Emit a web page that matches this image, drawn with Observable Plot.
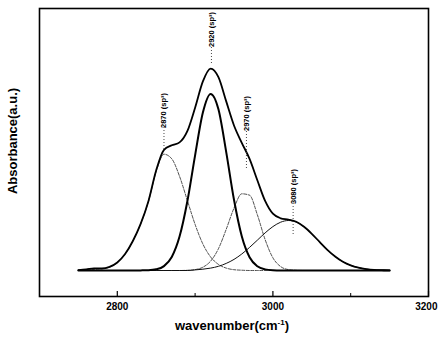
<!DOCTYPE html>
<html>
<head>
<meta charset="utf-8">
<script src="https://cdn.jsdelivr.net/npm/d3@7"></script>
<script src="https://cdn.jsdelivr.net/npm/@observablehq/plot@0.6"></script>
<style>
  html, body { margin: 0; padding: 0; background: #fff; }
  #chart { width: 438px; height: 345px; }
  svg { font-family: "Liberation Sans", Arial, sans-serif; }
</style>
</head>
<body>
<div id="chart"></div>
<script>
// ---- data (absorbance in arbitrary units) ----
const wavenumber = [2750, 2760, 2770, 2780, 2790, 2800, 2810, 2820, 2830, 2840,
  2850, 2860, 2870, 2880, 2890, 2900, 2910, 2920, 2930, 2940,
  2950, 2960, 2970, 2980, 2990, 3000, 3010, 3020, 3030, 3040,
  3050, 3060, 3070, 3080, 3090, 3100, 3110, 3120, 3130, 3140, 3150];

const fitSum = [0.3, 1.0, 2.2, 2.0, 3.6, 8.0, 16.5, 29.5, 46.6, 69.3,
  100.2, 120.7, 125.2, 128.1, 139.3, 162.8, 189.1, 201.9, 193.3, 169.1,
  145.0, 127.7, 111.6, 90.3, 69.6, 56.8, 52.2, 50.9, 48.7, 43.7,
  36.7, 28.6, 20.7, 14.0, 8.7, 5.1, 2.8, 1.4, 0.6, 0.3, 0.1];

const peak2870 = [0.3, 0.6, 1.0, 1.8, 3.3, 8.0, 16.5, 29.5, 46.6, 69.0,
  99.0, 116.3, 111.7, 94.2, 70.1, 46.1, 26.5, 13.5, 6.1, 2.4,
  0.8, 0.3, 0, 0, 0, 0, 0, 0, 0, 0,
  0, 0, 0, 0, 0, 0, 0, 0, 0, 0, 0];

const peak2920 = [0, 0, 0, 0, 0, 0, 0, 0, 0.1, 0.3,
  1.2, 4.4, 13.5, 33.9, 69.0, 115.2, 158.0, 176.6, 161.2, 118.4,
  70.7, 34.2, 13.2, 4.2, 1.1, 0.2, 0, 0, 0, 0,
  0, 0, 0, 0, 0, 0, 0, 0, 0, 0, 0];

const peak2970 = [0, 0, 0, 0, 0, 0, 0, 0, 0, 0,
  0, 0, 0, 0, 0.2, 0.9, 3.3, 9.4, 21.8, 41.2,
  62.4, 76.7, 75.3, 55.8, 30.9, 12.7, 3.9, 0.9, 0.2, 0,
  0, 0, 0, 0, 0, 0, 0, 0, 0, 0, 0];

const peak3080 = [0, 0, 0, 0, 0, 0, 0, 0, 0, 0,
  0, 0, 0, 0, 0, 0.6, 1.3, 2.4, 4.2, 7.1,
  11.1, 16.5, 23.1, 30.3, 37.6, 43.9, 48.3, 50.0, 48.5, 43.7,
  36.7, 28.6, 20.7, 14.0, 8.7, 5.1, 2.8, 1.4, 0.6, 0.3, 0.1];

// peak annotations
const labelText = ["2870 (sp³)", "2920 (sp³)", "2970 (sp³)", "3080 (sp³)"];
const labelX = [2860, 2921, 2966, 3026];
const labelY = [160, 241, 157, 84];
const leaderTop = [143, 223, 139, 67];
const leaderBottom = [120, 206, 100, 35];

const majorTicks = [2800, 3000, 3200];
const minorTicks = [2900, 3100];

// ---- build tables ----
const rows = wavenumber.map((w, i) => ({
  w, sum: fitSum[i], p1: peak2870[i], p2: peak2920[i], p3: peak2970[i], p4: peak3080[i]
}));
const labels = labelText.map((t, i) => ({
  t, x: labelX[i], y: labelY[i], y1: leaderTop[i], y2: leaderBottom[i]
}));

const plot = Plot.plot({
  width: 438,
  height: 345,
  marginLeft: 39,
  marginRight: 10,
  marginTop: 8,
  marginBottom: 49,
  x: { domain: [2700, 3200] },
  y: { domain: [-26, 262] },
  style: { fontFamily: "Liberation Sans, Arial, sans-serif", background: "#fff" },
  marks: [
    // thin components
    Plot.line(rows, { x: "w", y: "p1", curve: "monotone-x", stroke: "#222", strokeWidth: 0.8, strokeDasharray: "3,1.5" }),
    Plot.line(rows, { x: "w", y: "p3", curve: "monotone-x", stroke: "#222", strokeWidth: 0.8, strokeDasharray: "3,1.5" }),
    Plot.line(rows, { x: "w", y: "p4", curve: "monotone-x", stroke: "#111", strokeWidth: 1 }),
    // bold component and envelope
    Plot.line(rows, { x: "w", y: "p2", curve: "monotone-x", stroke: "#000", strokeWidth: 2 }),
    Plot.line(rows, { x: "w", y: "sum", curve: "monotone-x", stroke: "#000", strokeWidth: 1.8 }),
    // leader lines and labels
    Plot.ruleX(labels, { x: "x", y1: "y1", y2: "y2", stroke: "#333", strokeWidth: 0.9, strokeDasharray: "1,2" }),
    Plot.text(labels, { x: "x", y: "y", text: "t", rotate: -90, fontSize: 7.5, fontWeight: "bold", fill: "#000" }),
    // frame and inward ticks
    Plot.frame({ stroke: "#000", strokeWidth: 1.6 }),
    Plot.tickX(majorTicks, { x: d => d, insetTop: 283, stroke: "#000", strokeWidth: 1.2 }),
    Plot.tickX(minorTicks, { x: d => d, insetTop: 285, stroke: "#000", strokeWidth: 1 }),
    Plot.axisX(majorTicks.slice(0, 2), { tickSize: 0, tickPadding: 6, fontSize: 10, fontWeight: "bold", label: null, fill: "#000", tickFormat: d => String(d) }),
    Plot.axisX(majorTicks.slice(2), { tickSize: 0, tickPadding: 6, fontSize: 10, fontWeight: "bold", label: null, fill: "#000", tickFormat: d => String(d), textAnchor: "end", dx: 9 }),
    Plot.axisY({ ticks: [], label: null, tickSize: 0 })
  ]
});

document.getElementById("chart").appendChild(plot);

const svg = d3.select(plot);
// x axis title with superscript
const xt = svg.append("text")
  .attr("x", 232).attr("y", 330)
  .attr("text-anchor", "middle")
  .attr("font-size", 13).attr("font-weight", "bold").attr("fill", "#000");
xt.append("tspan").text("wavenumber(cm");
xt.append("tspan").attr("font-size", 8).attr("dy", -5).text("-1");
xt.append("tspan").attr("dy", 5).text(")");
// y axis title
svg.append("text")
  .attr("transform", "translate(17,141) rotate(-90)")
  .attr("text-anchor", "middle")
  .attr("font-size", 13).attr("font-weight", "bold").attr("fill", "#000")
  .text("Absorbance(a.u.)");
</script>
</body>
</html>
